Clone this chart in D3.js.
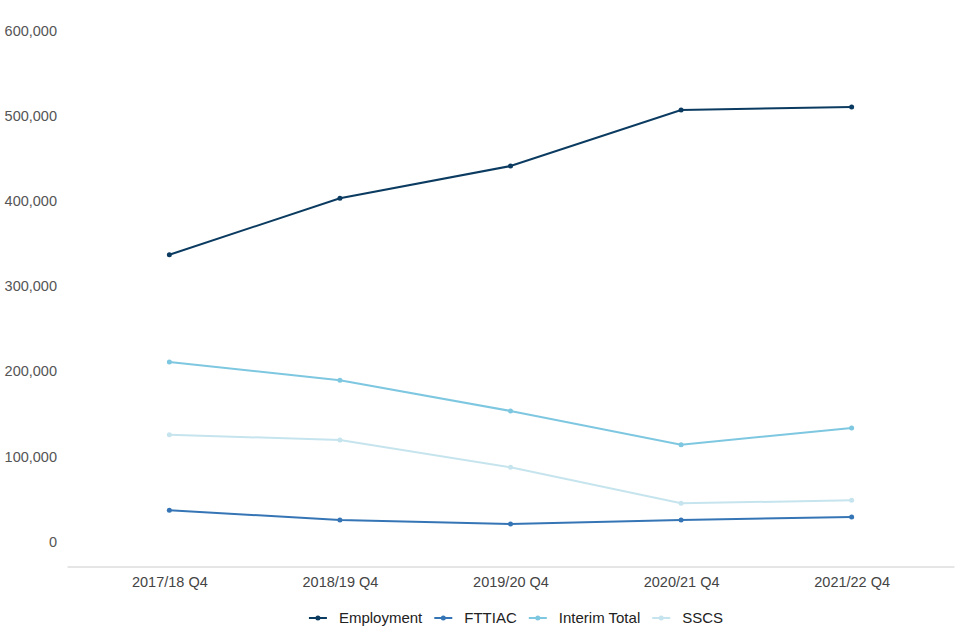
<!DOCTYPE html>
<html>
<head>
<meta charset="utf-8">
<script src="https://cdn.jsdelivr.net/npm/d3@7"></script>
<style>
  body { margin: 0; background: #fff; }
  text { font-family: "Liberation Sans", Arial, sans-serif; }
</style>
</head>
<body>
<div id="chart"></div>
<script>
const width = 960;
const height = 640;

const quarters = ["2017/18 Q4", "2018/19 Q4", "2019/20 Q4", "2020/21 Q4", "2021/22 Q4"];
const seriesNames = ["Employment", "FTTIAC", "Interim Total", "SSCS"];
const employment = [337000, 403200, 441100, 506900, 510400];
const fttiac = [36900, 25500, 20800, 25500, 29000];
const interimTotal = [211000, 189500, 153500, 113900, 133500];
const sscs = [125600, 119400, 87300, 45100, 48600];
const yTicks = [0, 100000, 200000, 300000, 400000, 500000, 600000];
const colors = ["#0b3b60", "#3575b5", "#7ec7e0", "#c6e4ee"];

const series = seriesNames.map((name, i) => ({
  name,
  color: colors[i],
  values: [employment, fttiac, interimTotal, sscs][i]
}));

const svg = d3.select("#chart")
  .append("svg")
  .attr("width", width)
  .attr("height", height);

const x = d3.scalePoint()
  .domain(quarters)
  .range([67, 954])
  .padding(0.6);

const y = d3.scaleLinear()
  .domain([0, 600000])
  .range([541.7, 30.7]);

// y tick labels (no axis line)
svg.append("g")
  .selectAll("text")
  .data(yTicks)
  .enter()
  .append("text")
  .attr("x", 57)
  .attr("y", d => y(d))
  .attr("dy", "0.35em")
  .attr("text-anchor", "end")
  .style("font-size", "14.5px")
  .style("fill", "#555")
  .text(d => d3.format(",")(d));

// x axis
const xAxis = svg.append("g")
  .attr("transform", "translate(0,566.5)")
  .call(d3.axisBottom(x).tickSize(0).tickPadding(10));
xAxis.select(".domain").attr("stroke", "#ccc");
xAxis.selectAll("text")
  .style("font-size", "14.5px")
  .style("font-family", "Liberation Sans, Arial, sans-serif")
  .style("fill", "#444");

const line = d3.line()
  .x((d, i) => x(quarters[i]))
  .y(d => y(d));

// draw lighter series first so darker ones sit on top
const drawOrder = [3, 2, 1, 0];
drawOrder.forEach(i => {
  const s = series[i];
  const g = svg.append("g");
  g.append("path")
    .datum(s.values)
    .attr("fill", "none")
    .attr("stroke", s.color)
    .attr("stroke-width", 2)
    .attr("d", line);
  g.selectAll("circle")
    .data(s.values)
    .enter()
    .append("circle")
    .attr("cx", (d, j) => x(quarters[j]))
    .attr("cy", d => y(d))
    .attr("r", 2.5)
    .attr("fill", s.color);
});

// Legend
const legend = svg.append("g");
let lx = 0;
series.forEach(s => {
  const item = legend.append("g").attr("transform", `translate(${lx},0)`);
  item.append("line")
    .attr("x1", 0).attr("x2", 18)
    .attr("y1", 0).attr("y2", 0)
    .attr("stroke", s.color)
    .attr("stroke-width", 2);
  item.append("circle")
    .attr("cx", 9).attr("cy", 0).attr("r", 2.5)
    .attr("fill", s.color);
  const t = item.append("text")
    .attr("x", 30)
    .attr("dy", "0.35em")
    .style("font-size", "15px")
    .style("fill", "#222")
    .text(s.name);
  lx += 30 + t.node().getComputedTextLength() + 12;
});
const legendWidth = lx - 12;
legend.attr("transform", `translate(${516 - legendWidth / 2},618)`);
</script>
</body>
</html>
